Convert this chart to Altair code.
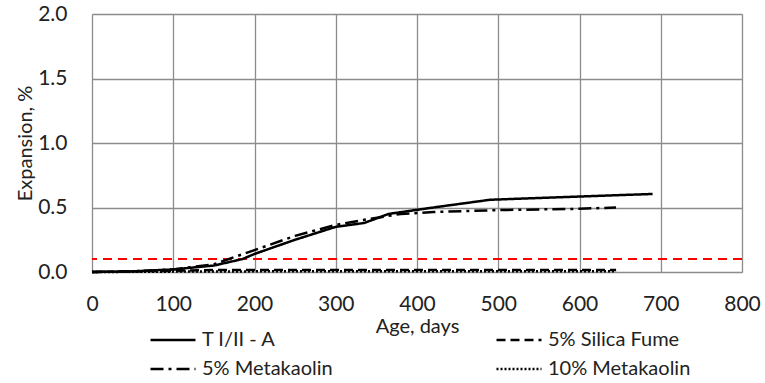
import altair as alt
import pandas as pd

series_order = ["T I/II - A", "5% Metakaolin", "5% Silica Fume", "10% Metakaolin"]

days_t = [0, 50, 100, 150, 185, 200, 250, 300, 335, 365, 420, 490, 600, 690]
exp_t = [0, 0.005, 0.02, 0.05, 0.10, 0.14, 0.25, 0.35, 0.38, 0.45, 0.50, 0.56, 0.585, 0.605]

days_sf = [0, 50, 100, 150, 200, 300, 400, 500, 600, 645]
exp_sf = [0, 0.005, 0.01, 0.015, 0.015, 0.015, 0.015, 0.015, 0.015, 0.015]

days_mk5 = [0, 50, 100, 150, 200, 250, 300, 340, 380, 420, 500, 600, 645]
exp_mk5 = [0, 0.005, 0.02, 0.06, 0.17, 0.28, 0.365, 0.41, 0.45, 0.465, 0.48, 0.49, 0.50]

days_mk10 = [0, 100, 200, 300, 400, 500, 645]
exp_mk10 = [0, 0.003, 0.005, 0.005, 0.005, 0.005, 0.005]

limit = [0.1]

x_ticks = [0, 100, 200, 300, 400, 500, 600, 700, 800]
y_ticks = [0.0, 0.5, 1.0, 1.5, 2.0]

rows = []
for name, xs, ys in [
    ("T I/II - A", days_t, exp_t),
    ("5% Silica Fume", days_sf, exp_sf),
    ("5% Metakaolin", days_mk5, exp_mk5),
    ("10% Metakaolin", days_mk10, exp_mk10),
]:
    for i, (a, b) in enumerate(zip(xs, ys)):
        rows.append({"series": name, "age": a, "exp": b, "order": i})
df = pd.DataFrame(rows)

FONT = "Lato"

lines = alt.Chart(df).mark_line(color="black").encode(
    x=alt.X("age:Q", scale=alt.Scale(domain=[0, 800], nice=False),
            axis=alt.Axis(values=x_ticks, title="Age, days", grid=True,
                          domain=False, ticks=False, labelPadding=21,
                          labelFlush=False, labelOverlap=False,
                          labelFontSize=21, labelColor="#222", labelFont=FONT,
                          titleFont=FONT, titleFontSize=20, titleFontWeight="normal",
                          titleColor="#222", titleY=60, titleBaseline="alphabetic",
                          gridColor="#8c8c8c", gridWidth=1.3)),
    y=alt.Y("exp:Q", scale=alt.Scale(domain=[0, 2], nice=False),
            axis=alt.Axis(values=y_ticks, format=".1f", title="Expansion, %",
                          grid=True, domain=False, ticks=False, labelPadding=25,
                          labelFlush=False, labelOverlap=False,
                          labelFontSize=21, labelColor="#222", labelFont=FONT,
                          titleFont=FONT, titleFontSize=20, titleFontWeight="normal",
                          titleColor="#222", titleX=-61, titleY=129, titleAngle=-90,
                          titleAlign="center", titleBaseline="alphabetic",
                          gridColor="#8c8c8c", gridWidth=1.3)),
    strokeDash=alt.StrokeDash("series:N",
        scale=alt.Scale(domain=series_order,
                        range=[[1, 0], [13, 5, 3, 5], [9, 5], [2, 2]]),
        legend=alt.Legend(title=None, orient="none", legendX=57, legendY=315,
                          columns=2, columnPadding=162, rowPadding=7,
                          clipHeight=22,
                          symbolType="stroke", symbolSize=2025,
                          symbolStrokeWidth=2.5, symbolStrokeColor="black",
                          labelFont=FONT, labelFontSize=20, labelColor="#222",
                          labelLimit=400, labelOffset=5)),
    strokeWidth=alt.StrokeWidth("series:N",
        scale=alt.Scale(domain=series_order, range=[2.5, 2.5, 3, 1.5]),
        legend=None),
    order="order:Q",
    detail="series:N",
)

rule = alt.Chart(pd.DataFrame({"y": limit})).mark_rule(
    color="red", strokeDash=[9, 6], strokeWidth=2
).encode(y="y:Q")

chart = alt.layer(rule, lines).properties(
    width=650, height=258,
    autosize=alt.AutoSizeParams(type="none"),
    padding={"left": 92, "top": 14, "right": 23, "bottom": 111},
).configure_view(stroke="black", strokeWidth=1.5).configure(background="white")

chart.save("out.html", embed_options={"renderer": "svg", "actions": False})
